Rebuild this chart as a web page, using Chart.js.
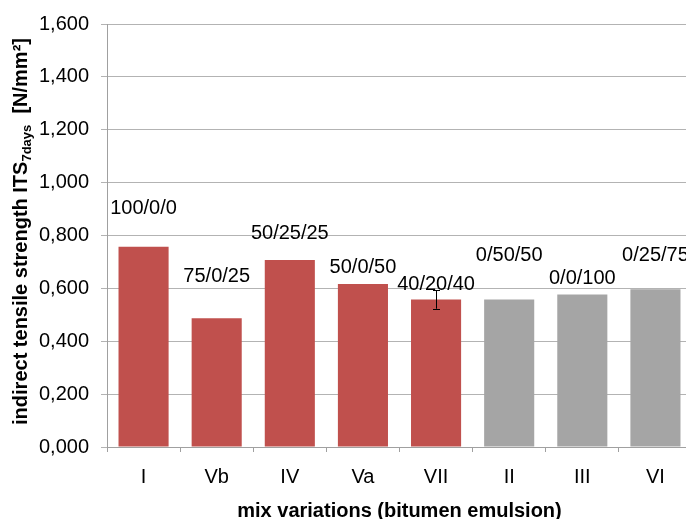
<!DOCTYPE html>
<html><head><meta charset="utf-8">
<script src="https://cdn.jsdelivr.net/npm/chart.js@4/dist/chart.umd.min.js"></script>
<style>
html,body{margin:0;padding:0;overflow:hidden;background:#fff;width:686px;height:519px}
#wrap{width:692px;height:519px;position:relative}
</style></head>
<body><div id="wrap"><canvas id="c"></canvas></div>
<script>
const categories = ['I','Vb','IV','Va','VII','II','III','VI'];
const values = [0.757,0.487,0.707,0.617,0.558,0.558,0.577,0.597];
const groups = ['a','a','a','a','a','b','b','b'];
const mixLabels = ['100/0/0','75/0/25','50/25/25','50/0/50','40/20/40','0/50/50','0/0/100','0/25/75'];
const mixLabelLevels = [0.903,0.646,0.807,0.680,0.616,0.726,0.637,0.726];
const errLow = [null,null,null,null,0.523,null,null,null];
const errHigh = [null,null,null,null,0.593,null,null,null];
const yTicks = [0,0.2,0.4,0.6,0.8,1.0,1.2,1.4,1.6];
const xTitle = 'mix variations (bitumen emulsion)';
const yTitleMain = 'indirect tensile strength ITS';
const yTitleSub = '7days';
const yTitleUnit = '  [N/mm²]';

const FONT = '"Liberation Sans", Arial, sans-serif';
const groupColor = {a:'#C0504D', b:'#A5A5A5'};

const annot = {
  id:'annot',
  afterDatasetsDraw(chart){
    const ctx = chart.ctx, ys = chart.scales.y, meta = chart.getDatasetMeta(0);
    ctx.save();
    // error bars
    ctx.strokeStyle = '#000'; ctx.lineWidth = 1;
    meta.data.forEach((bar,i)=>{
      if(errLow[i]==null) return;
      const x = Math.round(bar.x)+0.5, y1 = ys.getPixelForValue(errLow[i]), y2 = ys.getPixelForValue(errHigh[i]);
      ctx.beginPath();
      ctx.moveTo(x,y1); ctx.lineTo(x,y2);
      ctx.moveTo(x-3.5,Math.round(y1)+0.5); ctx.lineTo(x+3.5,Math.round(y1)+0.5);
      ctx.moveTo(x-3.5,Math.round(y2)+0.5); ctx.lineTo(x+3.5,Math.round(y2)+0.5);
      ctx.stroke();
    });
    // mix labels
    ctx.fillStyle = '#000'; ctx.font = '20px '+FONT; ctx.textAlign='center'; ctx.textBaseline='middle';
    meta.data.forEach((bar,i)=>{
      ctx.fillText(mixLabels[i], bar.x, ys.getPixelForValue(mixLabelLevels[i]));
    });
    // x title
    const ca = chart.chartArea;
    ctx.font = 'bold 20px '+FONT;
    ctx.fillText(xTitle, (ca.left+ca.right)/2, 511);
    // y title with subscript
    ctx.translate(21, (ca.top+ca.bottom)/2 - 4);
    ctx.rotate(-Math.PI/2);
    const fMain = 'bold 20px '+FONT, fSub = 'bold 13px '+FONT;
    ctx.font = fMain; const w1 = ctx.measureText(yTitleMain).width, w3 = ctx.measureText(yTitleUnit).width;
    ctx.font = fSub; const w2 = ctx.measureText(yTitleSub).width;
    let x0 = -(w1+w2+w3)/2;
    ctx.textAlign='left';
    ctx.font = fMain; ctx.fillText(yTitleMain, x0, 0);
    ctx.font = fSub; ctx.fillText(yTitleSub, x0+w1, 6);
    ctx.font = fMain; ctx.fillText(yTitleUnit, x0+w1+w2, 0);
    ctx.restore();
  }
};

new Chart(document.getElementById('c'), {
  type:'bar',
  data:{labels:categories, datasets:[{data:values, backgroundColor:groups.map(g=>groupColor[g]), borderWidth:0, barPercentage:0.685, categoryPercentage:1}]},
  options:{
    responsive:true, maintainAspectRatio:false, animation:false,
    layout:{padding:{top:14,left:0,right:0,bottom:0}},
    plugins:{legend:{display:false}, tooltip:{enabled:false}},
    scales:{
      x:{
        grid:{drawOnChartArea:false, tickLength:5, color:'#a0a0a0', offset:true},
        border:{color:'#a0a0a0'},
        ticks:{font:{size:20, family:FONT}, color:'#000', padding:13},
        afterFit(s){ s.height = 72; }
      },
      y:{
        min:0, max:1.6,
        afterBuildTicks(s){ s.ticks = yTicks.map(v=>({value:v})); },
        grid:{color:'#b3b3b3', tickLength:6},
        border:{color:'#a0a0a0'},
        ticks:{font:{size:20, family:FONT}, color:'#000', padding:12, callback:v=>v.toFixed(3).replace('.',',')},
        afterFit(s){ s.width = 107; }
      }
    }
  },
  plugins:[annot]
});
</script>
</body></html>
